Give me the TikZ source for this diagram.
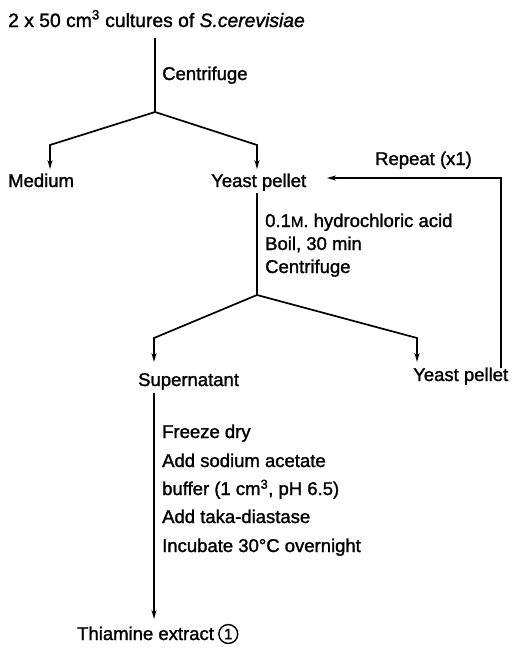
\documentclass[tikz,border=0pt]{standalone}
\usepackage{fontspec}
\setmainfont{Liberation Sans}[FakeBold=1.4]
\usetikzlibrary{arrows.meta}
\begin{document}
\begin{tikzpicture}[x=1pt,y=-1pt,
  lbl/.style={anchor=base west,inner sep=0pt,font=\fontsize{18.5}{22}\selectfont},
  ln/.style={line width=1.7pt},
  arr/.style={line width=1.7pt,-{Stealth[length=9pt,width=5pt]}}]
\useasboundingbox (0,0) rectangle (513,648);
% texts
\node[lbl,font=\fontsize{19.3}{22}\selectfont] (title) at (8,27) {2 x 50 cm\textsuperscript{3} cultures of \textit{S.cerevisiae}};
\node[lbl] (cent1) at (162,80) {Centrifuge};
\node[lbl] (medium) at (8,187) {Medium};
\node[lbl] (yp1) at (211,187) {Yeast pellet};
\node[lbl] (repeat) at (375,165) {Repeat (x1)};
\node[lbl] (hcl) at (265,227) {0.1{\fontsize{15}{15}\selectfont M}. hydrochloric acid};
\node[lbl] (boil) at (265,250) {Boil, 30 min};
\node[lbl] (cent2) at (265,273) {Centrifuge};
\node[lbl] (super) at (138,386) {Supernatant};
\node[lbl] (yp2) at (413,381) {Yeast pellet};
\node[lbl] (s1) at (162,438) {Freeze dry};
\node[lbl] (s2) at (162,467) {Add sodium acetate};
\node[lbl] (s3) at (162,495) {buffer (1 cm\textsuperscript{3}, pH 6.5)};
\node[lbl] (s4) at (162,523) {Add taka-diastase};
\node[lbl] (s5) at (162,552) {Incubate 30°C overnight};
\node[lbl] (thia) at (77,640) {Thiamine extract};
\node[draw,circle,line width=1.4pt,inner sep=2pt,font=\fontsize{15}{15}\selectfont,anchor=west] (one) at ([xshift=4pt,yshift=6pt]thia.base east) {1};
% coordinates
\coordinate (t0) at (155,38);
\coordinate (b1) at (155,112);
\coordinate (m1) at (50,145);
\coordinate (m2) at (50,169);
\coordinate (y1) at (257,145);
\coordinate (y2) at (257,169);
\coordinate (p0) at (257,193);
\coordinate (b2) at (257,295);
\coordinate (s0) at (154,338);
\coordinate (s9) at (154,362);
\coordinate (q0) at (417,338);
\coordinate (q9) at (417,362);
\coordinate (r0) at (501,368);
\coordinate (r1) at (501,178);
\coordinate (r2) at (327,178);
\coordinate (u0) at (154,393);
\coordinate (u9) at (154,619);
% connectors
\draw[ln] (t0) -- (b1);
\draw[arr] (b1) -- (m1) -- (m2);
\draw[arr] (b1) -- (y1) -- (y2);
\draw[ln] (p0) -- (b2);
\draw[arr] (b2) -- (s0) -- (s9);
\draw[arr] (b2) -- (q0) -- (q9);
\draw[arr] (r0) -- (r1) -- (r2);
\draw[arr] (u0) -- (u9);
\end{tikzpicture}
\end{document}
